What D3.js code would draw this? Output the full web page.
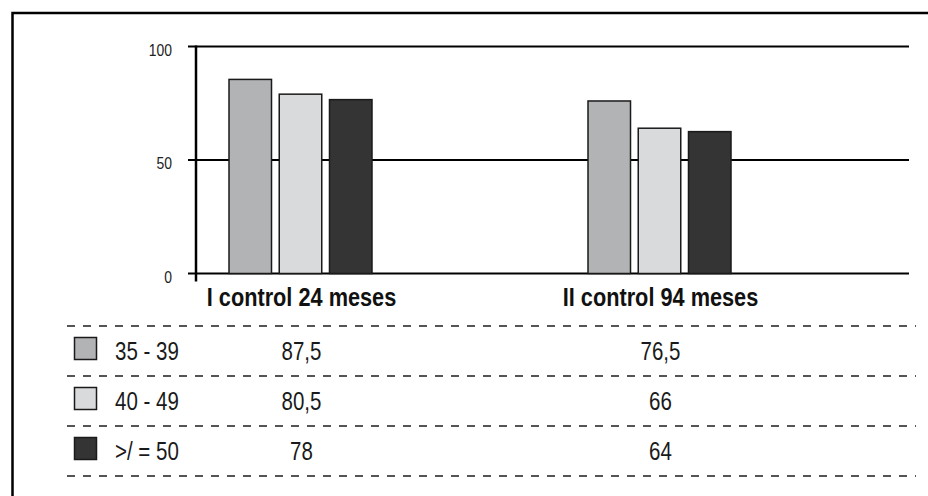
<!DOCTYPE html>
<html>
<head>
<meta charset="utf-8">
<script src="https://cdn.jsdelivr.net/npm/d3@7"></script>
<style>
  html, body { margin: 0; padding: 0; background: #fff; overflow: hidden; }
  svg { display: block; }
  text { font-family: "Liberation Sans", Arial, sans-serif; }
</style>
</head>
<body>
<svg id="chart" width="928" height="496"></svg>
<script>
// ---- data ----
const categories = ["I control 24 meses", "II control 94 meses"];
const seriesNames = ["35 - 39", "40 - 49", ">/ = 50"];
const seriesColors = ["#b2b3b5", "#d9dadc", "#343434"];
// bar heights as drawn in the picture
const series1 = [85.5, 76.0];   // 35 - 39
const series2 = [79.0, 64.0];   // 40 - 49
const series3 = [76.6, 62.5];   // >/ = 50
// table text as printed
const table1 = ["87,5", "76,5"];
const table2 = ["80,5", "66"];
const table3 = ["78", "64"];
const yTicks = [0, 50, 100];

const seriesValues = [series1, series2, series3];
const tableValues = [table1, table2, table3];
const NARROW = 0.82; // horizontal condensing to mimic a narrow typeface

const svg = d3.select("#chart");

// outer frame
svg.append("rect")
  .attr("x", 12.5).attr("y", 13).attr("width", 940).attr("height", 520)
  .attr("fill", "none").attr("stroke", "#000").attr("stroke-width", 2.5);

// scales
const plotLeft = 196, plotRight = 909;
const x = d3.scaleBand().domain(categories).range([121, 839]).padding(0);
const xInner = d3.scaleBand().domain(seriesNames).range([-71.5, 71.5]).paddingInner(0.154).paddingOuter(0);
const y = d3.scaleLinear().domain([0, 100]).range([273.5, 46.5]);
const cx = c => x(c) + x.bandwidth() / 2 + 1;

// gridlines
svg.append("g").selectAll("line").data(yTicks).join("line")
  .attr("x1", plotLeft - 8).attr("x2", plotRight)
  .attr("y1", d => y(d)).attr("y2", d => y(d))
  .attr("stroke", "#000").attr("stroke-width", 2);

// y axis labels
const yAxis = d3.axisLeft(y).tickValues(yTicks).tickSize(0).tickPadding(24).tickFormat(d3.format("d"));
const gy = svg.append("g").attr("transform", `translate(${plotLeft},0)`).call(yAxis);
gy.select(".domain").remove();
gy.selectAll("text")
  .attr("font-family", "'Liberation Sans', Arial, sans-serif")
  .attr("font-size", 17).attr("fill", "#222").attr("dy", "0.5em")
  .attr("x", -24 / NARROW)
  .attr("transform", `scale(${NARROW},1)`);

// y axis line
svg.append("line")
  .attr("x1", plotLeft).attr("x2", plotLeft)
  .attr("y1", y(100) - 1).attr("y2", y(0) + 8)
  .attr("stroke", "#000").attr("stroke-width", 2.5);

// bars
const rows = [];
seriesNames.forEach((s, i) => categories.forEach((c, j) => rows.push({s, c, v: seriesValues[i][j], color: seriesColors[i]})));
svg.append("g").selectAll("rect").data(rows).join("rect")
  .attr("x", d => x(d.c) + x.bandwidth() / 2 + xInner(d.s))
  .attr("width", xInner.bandwidth())
  .attr("y", d => y(d.v))
  .attr("height", d => y(0) - y(d.v))
  .attr("fill", d => d.color)
  .attr("stroke", "#1a1a1a").attr("stroke-width", 1.5);

// category labels
svg.append("g").selectAll("text").data(categories).join("text")
  .attr("transform", d => `translate(${cx(d)},306) scale(${NARROW},1)`)
  .attr("text-anchor", "middle")
  .attr("font-weight", "bold")
  .attr("font-size", 26.5)
  .attr("fill", "#111")
  .text(d => d);

// data table
const rowScale = d3.scaleBand().domain(seriesNames).range([326, 476]);
const lineYs = [326, 376, 426, 476];
svg.append("g").selectAll("line").data(lineYs).join("line")
  .attr("x1", 67).attr("x2", 916)
  .attr("y1", d => d).attr("y2", d => d)
  .attr("stroke", "#555").attr("stroke-width", 2)
  .attr("stroke-dasharray", "8,8");

const tr = svg.append("g").selectAll("g").data(seriesNames).join("g")
  .attr("transform", d => `translate(0,${rowScale(d)})`);
tr.append("rect")
  .attr("x", 74.5).attr("y", 11.5).attr("width", 22).attr("height", 22)
  .attr("fill", (d, i) => seriesColors[i])
  .attr("stroke", "#1a1a1a").attr("stroke-width", 1.5);
tr.append("text")
  .attr("transform", `translate(115,34) scale(${NARROW},1)`)
  .attr("font-size", 25).attr("fill", "#1a1a1a")
  .text(d => d);
tr.each(function(d, i) {
  d3.select(this).selectAll("text.val").data(categories).join("text")
    .attr("class", "val")
    .attr("transform", c => `translate(${cx(c)},34) scale(${NARROW},1)`)
    .attr("text-anchor", "middle")
    .attr("font-size", 25).attr("fill", "#1a1a1a")
    .text((c, j) => tableValues[i][j]);
});
</script>
</body>
</html>
